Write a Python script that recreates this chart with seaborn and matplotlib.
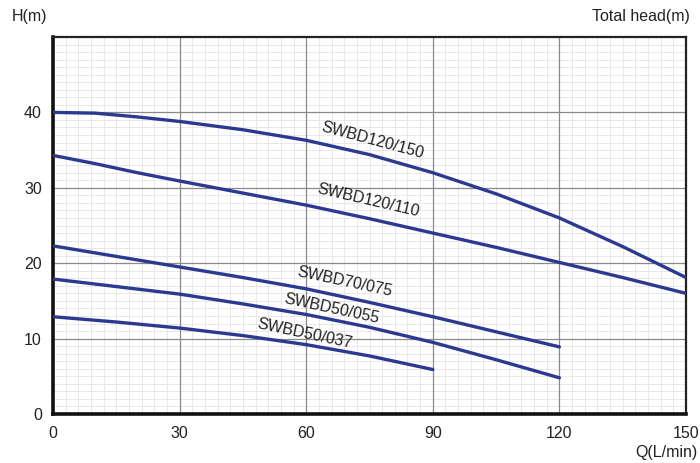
import matplotlib
matplotlib.use("Agg")
import matplotlib.pyplot as plt
import seaborn as sns
import pandas as pd
from matplotlib.ticker import FixedLocator

# ---- data ----
q_long = [0, 10, 20, 30, 45, 60, 75, 90, 105, 120, 135, 150]
q_mid = [0, 15, 30, 45, 60, 75, 90, 105, 120]
q_short = [0, 15, 30, 45, 60, 75, 90]

h_120_150 = [40.0, 39.9, 39.4, 38.8, 37.7, 36.3, 34.4, 32.0, 29.2, 26.0, 22.2, 18.1]
h_120_110 = [34.3, 33.2, 32.0, 30.9, 29.3, 27.7, 25.9, 24.0, 22.1, 20.1, 18.1, 16.0]
h_70_075 = [22.3, 20.9, 19.5, 18.1, 16.6, 14.8, 12.9, 10.9, 8.9]
h_50_055 = [17.9, 16.9, 15.9, 14.6, 13.2, 11.5, 9.5, 7.2, 4.8]
h_50_037 = [12.9, 12.2, 11.4, 10.4, 9.2, 7.7, 5.9]

series_names = ["SWBD120/150", "SWBD120/110", "SWBD70/075", "SWBD50/055", "SWBD50/037"]
series_q = [q_long, q_long, q_mid, q_mid, q_short]
series_h = [h_120_150, h_120_110, h_70_075, h_50_055, h_50_037]

x_ticks = [0, 30, 60, 90, 120, 150]
y_ticks = [0, 10, 20, 30, 40]

# label positions (data coords) and screen rotation
label_pos = [(75.6, 36.3, -15), (74.6, 28.3, -13), (69.2, 17.6, -12),
             (65.9, 14.0, -12), (59.7, 10.6, -12)]

rows = []
for name, qs, hs in zip(series_names, series_q, series_h):
    for q, h in zip(qs, hs):
        rows.append({"Q": q, "H": h, "model": name})
df = pd.DataFrame(rows)

sns.set_style("white")
plt.rcParams["font.family"] = ["Liberation Sans", "DejaVu Sans"]

fig = plt.figure(figsize=(7.0, 4.63), dpi=100)
ax = fig.add_axes([53 / 700, 49 / 463, 633 / 700, 377 / 463])

line_color = "#2b3990"
sns.lineplot(data=df, x="Q", y="H", hue="model",
             palette={n: line_color for n in series_names},
             linewidth=2.4, legend=False, ax=ax, sort=True, estimator=None,
             zorder=3)

ax.set_xlim(0, 150)
ax.set_ylim(0, 50)
ax.set_xticks(x_ticks)
ax.set_yticks(y_ticks)
ax.xaxis.set_minor_locator(FixedLocator([v for v in range(0, 151, 3) if v % 30 != 0]))
ax.yaxis.set_minor_locator(FixedLocator([v for v in range(0, 51) if v % 10 != 0]))
ax.grid(which="minor", color="#e4e4e4", linewidth=0.6)
ax.grid(which="major", visible=False)
ax.set_axisbelow(True)
# major grid drawn above the minor grid so it stays continuous
for xv in x_ticks:
    ax.axvline(xv, color="#8a8a8a", linewidth=0.9, zorder=1)
for yv in y_ticks:
    ax.axhline(yv, color="#8a8a8a", linewidth=0.9, zorder=1)
ax.tick_params(which="both", length=0)
ax.tick_params(axis="x", pad=9, labelsize=11.5, colors="#222222")
ax.tick_params(axis="y", pad=8, labelsize=11.5, colors="#222222")
ax.set_xlabel("")
ax.set_ylabel("")

for side in ["left", "bottom"]:
    ax.spines[side].set_linewidth(2.6)
    ax.spines[side].set_color("#111111")
for side in ["top", "right"]:
    ax.spines[side].set_linewidth(1.6)
    ax.spines[side].set_color("#222222")

for name, (tx, ty, rot) in zip(series_names, label_pos):
    ax.text(tx, ty, name, rotation=rot, rotation_mode="anchor",
            ha="center", va="center", fontsize=11.5, color="#222222", zorder=4)

fig.text(12 / 700, 1 - 17 / 463, "H(m)", ha="left", va="center",
         fontsize=11.5, color="#222222")
fig.text(690 / 700, 1 - 17 / 463, "Total head(m)", ha="right", va="center",
         fontsize=11.5, color="#222222")
fig.text(698 / 700, 1 - 452 / 463, "Q(L/min)", ha="right", va="center",
         fontsize=11.5, color="#222222")

fig.savefig("out.png", dpi=100)
